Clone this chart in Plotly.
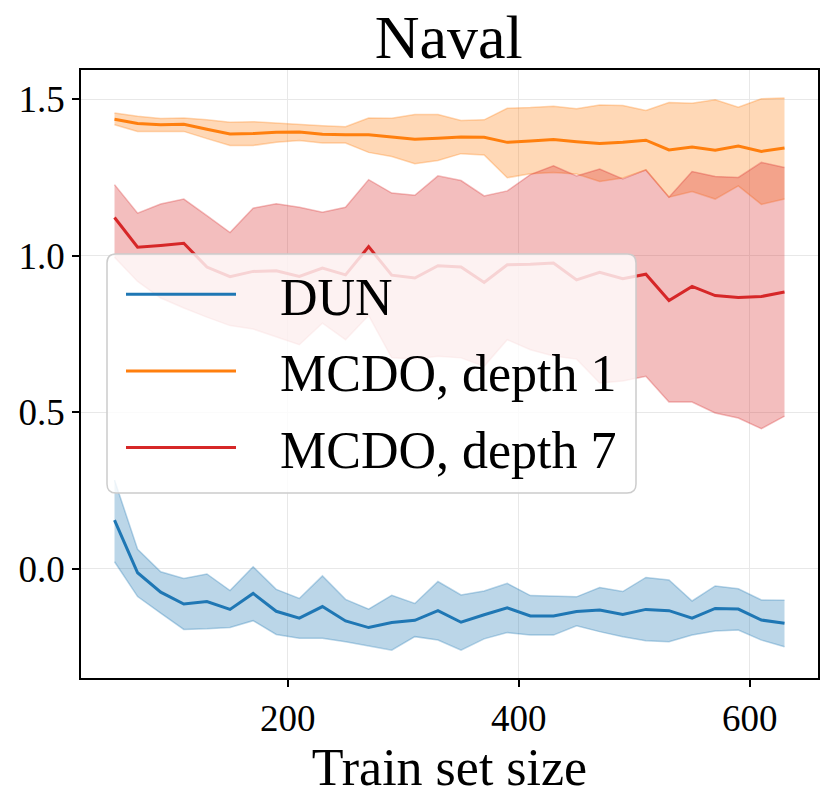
import plotly.graph_objects as go

train_size = [50, 70, 90, 110, 130, 150, 170, 190, 210, 230, 250, 270, 290, 310, 330,
              350, 370, 390, 410, 430, 450, 470, 490, 510, 530, 550, 570, 590, 610, 630]

dun_mean = [0.156, -0.012, -0.074, -0.112, -0.104, -0.129, -0.078, -0.135, -0.157, -0.120,
            -0.166, -0.187, -0.171, -0.164, -0.133, -0.170, -0.146, -0.124, -0.150, -0.150,
            -0.136, -0.131, -0.145, -0.129, -0.133, -0.157, -0.126, -0.128, -0.163, -0.173]
dun_upper = [0.284, 0.063, -0.009, -0.030, -0.016, -0.069, 0.007, -0.065, -0.094, -0.022,
             -0.097, -0.128, -0.084, -0.110, -0.040, -0.083, -0.070, -0.046, -0.085, -0.086,
             -0.089, -0.059, -0.072, -0.027, -0.035, -0.102, -0.054, -0.063, -0.099, -0.100]
dun_lower = [0.023, -0.088, -0.141, -0.193, -0.191, -0.187, -0.165, -0.209, -0.221, -0.221,
             -0.232, -0.245, -0.259, -0.216, -0.227, -0.259, -0.223, -0.203, -0.211, -0.211,
             -0.181, -0.200, -0.216, -0.229, -0.232, -0.211, -0.198, -0.195, -0.227, -0.248]

mcdo1_mean = [1.436, 1.422, 1.418, 1.420, 1.404, 1.389, 1.390, 1.394, 1.395, 1.388,
              1.386, 1.386, 1.379, 1.372, 1.375, 1.379, 1.378, 1.362, 1.366, 1.371,
              1.364, 1.358, 1.362, 1.369, 1.338, 1.347, 1.337, 1.350, 1.333, 1.344]
mcdo1_upper = [1.456, 1.445, 1.438, 1.440, 1.434, 1.426, 1.428, 1.423, 1.420, 1.415,
               1.412, 1.440, 1.439, 1.451, 1.451, 1.432, 1.434, 1.471, 1.473, 1.477,
               1.469, 1.481, 1.480, 1.464, 1.489, 1.487, 1.498, 1.474, 1.501, 1.504]
mcdo1_lower = [1.418, 1.397, 1.397, 1.397, 1.374, 1.352, 1.352, 1.362, 1.368, 1.360,
               1.360, 1.330, 1.317, 1.294, 1.304, 1.326, 1.322, 1.249, 1.262, 1.266,
               1.261, 1.237, 1.248, 1.274, 1.187, 1.205, 1.181, 1.223, 1.164, 1.181]

mcdo7_mean = [1.122, 1.027, 1.033, 1.040, 0.964, 0.933, 0.950, 0.952, 0.934, 0.961,
              0.939, 1.029, 0.938, 0.929, 0.968, 0.964, 0.915, 0.971, 0.973, 0.977,
              0.923, 0.947, 0.927, 0.941, 0.857, 0.902, 0.873, 0.867, 0.870, 0.884]
mcdo7_upper = [1.227, 1.136, 1.165, 1.181, 1.128, 1.074, 1.152, 1.166, 1.155, 1.139,
               1.155, 1.243, 1.200, 1.193, 1.255, 1.240, 1.191, 1.207, 1.259, 1.287,
               1.255, 1.277, 1.245, 1.274, 1.187, 1.269, 1.253, 1.250, 1.298, 1.282]
mcdo7_lower = [0.995, 0.918, 0.865, 0.833, 0.804, 0.777, 0.766, 0.742, 0.716, 0.785,
               0.732, 0.809, 0.674, 0.670, 0.679, 0.674, 0.647, 0.732, 0.700, 0.680,
               0.670, 0.594, 0.600, 0.615, 0.533, 0.533, 0.498, 0.482, 0.448, 0.488]

series_names = ["DUN", "MCDO, depth 1", "MCDO, depth 7"]
series = [
    (dun_mean, dun_lower, dun_upper, (31, 119, 180)),
    (mcdo1_mean, mcdo1_lower, mcdo1_upper, (255, 127, 14)),
    (mcdo7_mean, mcdo7_lower, mcdo7_upper, (214, 39, 40)),
]

FONT = "Liberation Serif, Times New Roman, serif"
NB = "\u00a0"

W, H = 831, 800
ML, MR, MT, MB = 81, 13, 70, 122
PW, PH = W - ML - MR, H - MT - MB

fig = go.Figure()
for i, (name, (mean, lo, hi, (r, g, b))) in enumerate(zip(series_names, series)):
    band = f"rgba({r},{g},{b},0.3)"
    fig.add_trace(go.Scatter(x=train_size, y=lo, mode="lines",
                             line=dict(color=band, width=1.5),
                             showlegend=False, hoverinfo="skip"))
    fig.add_trace(go.Scatter(x=train_size, y=hi, mode="lines", fill="tonexty",
                             fillcolor=band, line=dict(color=band, width=1.5),
                             showlegend=False, hoverinfo="skip"))
    fig.add_trace(go.Scatter(x=train_size, y=mean, mode="lines",
                             name=NB * 3 + name,
                             legendgroup=f"g{i}",
                             line=dict(color=f"rgb({r},{g},{b})", width=3)))

# rounded legend frame (pixel box converted to paper coords)
def px_x(px):
    return (px - ML) / PW

def px_y(py):
    return (H - MB - py) / PH

bx0, bx1, by0, by1, rad = 107, 636, 254, 493, 9
x0, x1, x0r, x1r = px_x(bx0), px_x(bx1), px_x(bx0 + rad), px_x(bx1 - rad)
yt, yb, ytr, ybr = px_y(by0), px_y(by1), px_y(by0 + rad), px_y(by1 - rad)
frame_path = (f"M{x0r},{yt} L{x1r},{yt} Q{x1},{yt} {x1},{ytr} "
              f"L{x1},{ybr} Q{x1},{yb} {x1r},{yb} L{x0r},{yb} "
              f"Q{x0},{yb} {x0},{ybr} L{x0},{ytr} Q{x0},{yt} {x0r},{yt} Z")
fig.add_shape(type="path", path=frame_path, xref="paper", yref="paper",
              fillcolor="rgba(255,255,255,0.8)",
              line=dict(color="#cccccc", width=1.5), layer="above")

axis_common = dict(
    showline=True, linecolor="black", linewidth=1.5, mirror=True,
    ticks="outside", ticklen=7, tickwidth=1.5, tickcolor="black",
    showgrid=True, gridcolor="#e8e8e8", gridwidth=1.2, zeroline=False,
    automargin=False,
    tickfont=dict(family=FONT, size=37, color="black"),
)

fig.update_layout(
    width=W, height=H,
    margin=dict(l=ML, r=MR, t=MT, b=MB),
    paper_bgcolor="white", plot_bgcolor="white",
    font=dict(family=FONT, color="black"),
    title=dict(text="Naval", x=0.54, xref="container", xanchor="center",
               y=0.955, yref="container", yanchor="middle",
               font=dict(family=FONT, size=62, color="black")),
    xaxis=dict(range=[21, 659], tickvals=[200, 400, 600],
               title=dict(text="Train set size", standoff=0,
                          font=dict(family=FONT, size=52, color="black")),
               **axis_common),
    yaxis=dict(range=[-0.348, 1.593], tickvals=[0.0, 0.5, 1.0, 1.5],
               tickformat=".1f", **axis_common),
    legend=dict(x=px_x(121), y=px_y(254), xanchor="left", yanchor="top",
                bgcolor="rgba(0,0,0,0)", borderwidth=0,
                font=dict(family=FONT, size=52, color="black"),
                itemwidth=110, tracegroupgap=6),
)

fig.write_html("out.html", config={"displayModeBar": False},
               post_script="document.body.style.margin='0';document.body.style.padding='0';")
